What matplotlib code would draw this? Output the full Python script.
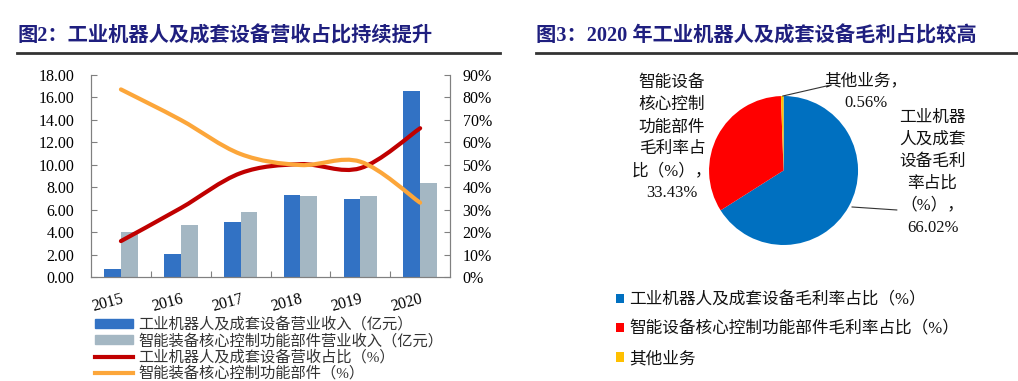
import matplotlib
matplotlib.use("Agg")
import matplotlib.pyplot as plt
from matplotlib.path import Path
from matplotlib.patches import PathPatch, Patch
from matplotlib.lines import Line2D
from matplotlib.ticker import FuncFormatter

plt.rcParams['font.family'] = ['Liberation Serif', 'Noto Sans CJK SC']

# data
years = ['2015', '2016', '2017', '2018', '2019', '2020']
robot_rev = [0.75, 2.05, 4.87, 7.31, 6.98, 16.6]       # 亿元
core_rev = [4.0, 4.63, 5.82, 7.25, 7.19, 8.38]         # 亿元
robot_share = [16.0, 30.7, 46.3, 50.3, 48.5, 66.3]     # %
core_share = [83.6, 70.0, 54.8, 49.9, 51.4, 33.1]      # %

pie_labels = ['工业机器人及成套设备毛利率占比（%）', '智能设备核心控制功能部件毛利率占比（%）', '其他业务']
pie_values = [66.02, 33.43, 0.56]

title_color = '#1f1f7f'
blue_bar = '#3272c4'
grey_bar = '#a4b7c3'
red_line = '#c00000'
orange_line = '#fca63a'
pie_colors = ['#0070c0', '#ff0000', '#ffc000']


def smooth_path(xs, ys):
    # excel-like smoothed line: cubic bezier through every point
    pts = list(zip(xs, ys))
    verts = [pts[0]]
    codes = [Path.MOVETO]
    n = len(pts)
    for i in range(n - 1):
        p0 = pts[max(i - 1, 0)]
        p1 = pts[i]
        p2 = pts[i + 1]
        p3 = pts[min(i + 2, n - 1)]
        c1 = (p1[0] + (p2[0] - p0[0]) / 6, p1[1] + (p2[1] - p0[1]) / 6)
        c2 = (p2[0] - (p3[0] - p1[0]) / 6, p2[1] - (p3[1] - p1[1]) / 6)
        verts += [c1, c2, p2]
        codes += [Path.CURVE4] * 3
    return Path(verts, codes)


fig = plt.figure(figsize=(10.18, 3.81), dpi=100)

# titles
fig.text(0.017, 0.905, '图2：工业机器人及成套设备营收占比持续提升', fontsize=14.6,
         fontweight='bold', color=title_color, va='center')
fig.text(0.527, 0.905, '图3：2020 年工业机器人及成套设备毛利占比较高', fontsize=14.6,
         fontweight='bold', color=title_color, va='center')
fig.add_artist(Line2D([0.017, 0.491], [0.86, 0.86], color='#333333', lw=2))
fig.add_artist(Line2D([0.527, 0.999], [0.86, 0.86], color='#333333', lw=2))

# left chart
ax = fig.add_axes([0.0894, 0.273, 0.3527, 0.530])
x = list(range(len(years)))
w = 0.28
ax.bar([i - w / 2 for i in x], robot_rev, width=w, color=blue_bar)
ax.bar([i + w / 2 for i in x], core_rev, width=w, color=grey_bar)
ax.set_xlim(-0.5, len(years) - 0.5)
ax.set_ylim(0, 18)
ax.set_yticks(range(0, 19, 2))
ax.yaxis.set_major_formatter(FuncFormatter(lambda v, p: f'{v:.2f}'))
ax.set_xticks([i + 0.5 for i in x[:-1]])
ax.set_xticklabels([])
ax.set_xticks(x, minor=True)
ax.set_xticklabels(years, minor=True, rotation=15, ha='right', rotation_mode='anchor')
ax.tick_params(axis='x', which='minor', length=0, pad=10, labelsize=11.5)
ax.tick_params(axis='x', which='major', length=4, direction='in', color='#808080')
ax.tick_params(axis='y', labelsize=11.5, length=4, direction='in', color='#808080', pad=12)
ax.spines['top'].set_visible(False)
for s in ['left', 'bottom', 'right']:
    ax.spines[s].set_color('#808080')

ax2 = ax.twinx()
ax2.set_ylim(0, 90)
ax2.set_yticks(range(0, 91, 10))
ax2.yaxis.set_major_formatter(FuncFormatter(lambda v, p: f'{v:.0f}%'))
ax2.tick_params(axis='y', labelsize=11.5, length=4, direction='in', color='#808080', pad=9)
ax2.spines['top'].set_visible(False)
for s in ['left', 'bottom', 'right']:
    ax2.spines[s].set_color('#808080')
ax2.add_patch(PathPatch(smooth_path(x, robot_share), fill=False, ec=red_line, lw=3,
                        capstyle='round'))
ax2.add_patch(PathPatch(smooth_path(x, core_share), fill=False, ec=orange_line, lw=3,
                        capstyle='round'))

handles = [Patch(color=blue_bar), Patch(color=grey_bar),
           Line2D([], [], color=red_line, lw=3), Line2D([], [], color=orange_line, lw=3)]
labels = ['工业机器人及成套设备营业收入（亿元）', '智能装备核心控制功能部件营业收入（亿元）',
          '工业机器人及成套设备营收占比（%）', '智能装备核心控制功能部件（%）']
fig.legend(handles, labels, loc='upper left', bbox_to_anchor=(0.086, 0.188),
           frameon=False, fontsize=11, handlelength=2.5, handleheight=0.55,
           labelspacing=0.1, borderpad=0, handletextpad=0.35, labelcolor='#333333')

# right chart: pie
pax = fig.add_axes([0.6965, 0.357, 0.1464, 0.391])
wedges, _ = pax.pie(pie_values, colors=pie_colors, startangle=90, counterclock=False,
                    radius=1)
pax.set_xlim(-1, 1)
pax.set_ylim(-1, 1)
pax.set_aspect('equal')

lbl_kw = dict(fontsize=12, ha='center', va='center', linespacing=1.5, color='#111111')
pax.text(-1.50, 0.43, '智能设备\n核心控制\n功能部件\n毛利率占\n比（%），\n33.43%', **lbl_kw)
pax.text(1.11, 1.05, '其他业务，\n0.56%', **lbl_kw)
pax.text(2.0, -0.03, '工业机器\n人及成套\n设备毛利\n率占比\n（%），\n66.02%', **lbl_kw)
pax.plot([-0.01, 0.60], [1.0, 1.14], color='#333333', lw=0.8, clip_on=False)
pax.plot([0.92, 1.52], [-0.49, -0.53], color='#333333', lw=0.8, clip_on=False)

fig.legend(wedges, pie_labels, loc='upper left', bbox_to_anchor=(0.597, 0.255),
           frameon=False, fontsize=12, handlelength=0.5, handleheight=0.5,
           labelspacing=0.8, borderpad=0, handletextpad=0.3, labelcolor='#111111')

fig.savefig('out.png', dpi=100)
